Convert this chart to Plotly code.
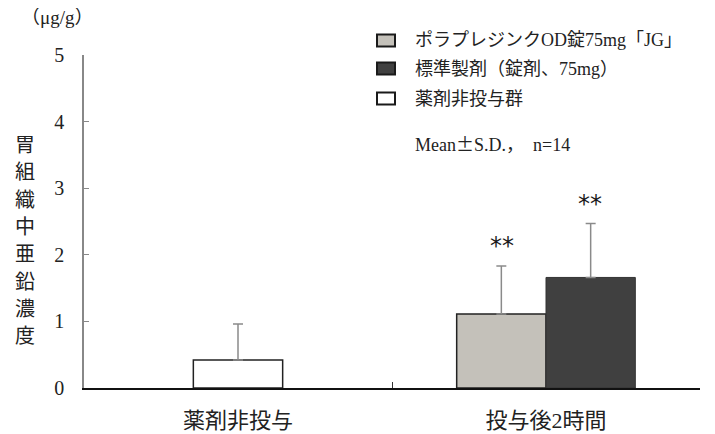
import plotly.graph_objects as go

categories = ["薬剤非投与", "投与後2時間"]
series_names = ["ポラプレジンクOD錠75mg「JG」", "標準製剤（錠剤、75mg）", "薬剤非投与群"]
jg_mean = [1.11]
jg_sd = [0.72]
std_mean = [1.66]
std_sd = [0.81]
ctrl_mean = [0.42]
ctrl_sd = [0.54]
y_ticks = [0, 1, 2, 3, 4, 5]
sig_labels = ["**", "**"]
note_text = "Mean<span style='font-family:Noto Sans CJK JP'>±</span>S.D.，  n=14"
unit_text = "（μg/g）"
y_title = "胃組織中亜鉛濃度"

FONT = "Liberation Serif, 'Noto Sans CJK JP'"
BW = 0.29
colors = ["#c4c1ba", "#404040", "#ffffff"]

# page offset (body margin) and plot box geometry in screen pixels
W, H = 707, 426
L, R, T, B = 76, 15, 47, 46
PW, PH = W - L - R, H - T - B
OFF = 8


def px(xs):
    return (xs - OFF - L) / PW


def py(ys):
    return (H - B - (ys - OFF)) / PH


fig = go.Figure()
err_style = dict(type="data", symmetric=False, color="#8a8a8a", thickness=1.5, width=5)

fig.add_trace(go.Bar(
    x=[categories[0]], y=ctrl_mean, name=series_names[2],
    width=BW, offset=-BW / 2,
    marker=dict(color=colors[2], line=dict(color="#222222", width=1.5)),
    error_y=dict(array=ctrl_sd, arrayminus=[0] * len(ctrl_sd), **err_style),
))
fig.add_trace(go.Bar(
    x=[categories[1]], y=jg_mean, name=series_names[0],
    width=BW, offset=-BW,
    marker=dict(color=colors[0], line=dict(color="#222222", width=1.5)),
    error_y=dict(array=jg_sd, arrayminus=[0] * len(jg_sd), **err_style),
))
fig.add_trace(go.Bar(
    x=[categories[1]], y=std_mean, name=series_names[1],
    width=BW, offset=0,
    marker=dict(color=colors[1], line=dict(color="#333333", width=1)),
    error_y=dict(array=std_sd, arrayminus=[0] * len(std_sd), **err_style),
))

# significance marks
for i, (m, s) in enumerate([(jg_mean[0], jg_sd[0]), (std_mean[0], std_sd[0])]):
    fig.add_annotation(
        x=categories[1], y=m + s, xref="x", yref="y",
        text=sig_labels[i], showarrow=False, yanchor="bottom",
        xshift=(-1 if i == 0 else 1) * 44, yshift=4,
        font=dict(family="DejaVu Sans", size=24, color="#1a1a1a"),
    )

# manual legend
legend_rows = [40.5, 68.5, 98.5]
for name, col, yc in zip(series_names, colors, legend_rows):
    fig.add_shape(
        type="rect", xref="paper", yref="paper",
        x0=px(377), x1=px(395), y0=py(yc - 6), y1=py(yc + 6),
        fillcolor=col, line=dict(color="#1a1a1a", width=2),
    )
    fig.add_annotation(
        x=px(413), y=py(yc), xref="paper", yref="paper", text=name,
        showarrow=False, xanchor="left", yanchor="middle",
        font=dict(family=FONT, size=18, color="#222222"),
    )

fig.add_annotation(
    x=px(413), y=py(143), xref="paper", yref="paper", text=note_text,
    showarrow=False, xanchor="left", yanchor="middle",
    font=dict(family=FONT, size=18, color="#222222"),
)

fig.update_layout(
    width=W, height=H,
    margin=dict(l=L, r=R, t=T, b=B),
    barmode="overlay",
    paper_bgcolor="white", plot_bgcolor="white",
    font=dict(family=FONT, size=18, color="#222222"),
    showlegend=False,
    xaxis=dict(
        type="category", categoryorder="array", categoryarray=categories,
        range=[-0.5, 1.5], showline=True, linecolor="#111111", linewidth=1.5,
        ticks="inside", tickson="boundaries", ticklen=6, tickcolor="#333333",
        showgrid=False, zeroline=False, ticklabelstandoff=12, automargin=False,
        tickfont=dict(family=FONT, size=22, color="#222222"),
    ),
    yaxis=dict(
        range=[0, 5], tickvals=y_ticks, showline=True, linecolor="#888888", linewidth=1.5,
        ticks="inside", ticklen=5, tickcolor="#888888", showgrid=False, zeroline=False,
        ticklabelstandoff=14, automargin=False,
        tickfont=dict(family=FONT, size=20, color="#222222"),
    ),
)

# y-axis unit and vertical title
fig.add_annotation(
    x=px(19), y=py(18), xref="paper", yref="paper", text=unit_text, showarrow=False,
    xanchor="left", yanchor="middle", font=dict(family=FONT, size=19, color="#222222"),
)
fig.add_annotation(
    x=px(25), y=py(240), xref="paper", yref="paper",
    text="<span style='font-size:20px'>" + "<br>".join(y_title) + "</span>",
    showarrow=False, xanchor="center", yanchor="middle",
    font=dict(family=FONT, size=21, color="#222222"),
)

fig.write_html("out.html")
